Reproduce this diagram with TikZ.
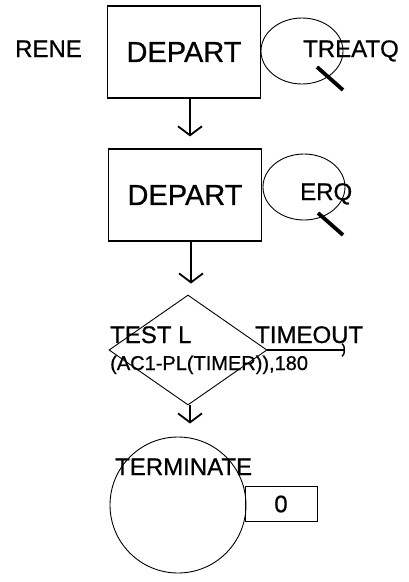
\documentclass[tikz,border=0pt]{standalone}
\usepackage{fontspec}
\setmainfont{Liberation Sans}[FakeBold=0.7]
\usetikzlibrary{shapes.geometric,arrows.meta,positioning}

\begin{document}
\begin{tikzpicture}[x=1pt, y=-1pt,
  block/.style={draw, line width=1.2pt, minimum width=153pt, minimum height=92pt, inner sep=0pt, font=\fontsize{29}{29}\selectfont},
  queue/.style={draw, ellipse, line width=0.9pt, minimum width=82pt, minimum height=66pt, inner sep=0pt},
  lbl/.style={anchor=base west, inner sep=0pt, font=\fontsize{24}{24}\selectfont},
  flow/.style={-{Straight Barb[length=9pt,width=24pt]}, line width=1.8pt},
  qmark/.style={line width=3.8pt}]
\useasboundingbox (0,0) rectangle (409,582);
\node[block] (dep1) at (184,52) {DEPART};
\node[block] (dep2) at (185,195) {DEPART};
\node[queue] (q1) at (302,51) {};
\node[queue] (q2) at (304,187) {};
\node[lbl] (rene) at (15,57) {RENE};
\node[lbl] (treatq) at (303,57) {TREATQ};
\node[lbl] (erq) at (300,200) {ERQ};
\node[draw, diamond, line width=0.9pt, minimum width=158pt, minimum height=110pt, inner sep=0pt] (test) at (188,350) {};
\node[lbl] (testl) at (110,343) {TEST L};
\node[lbl] (tmout) at (255,343) {TIMEOUT};
\node[lbl, font=\fontsize{20}{20}\selectfont] (args) at (110,370) {(AC1-PL(TIMER)),180};
\node[draw, circle, line width=0.9pt, minimum size=136pt, inner sep=0pt] (term) at (178,505) {};
\node[lbl] (termtxt) at (115,475) {TERMINATE};
\node[draw, line width=0.9pt, minimum width=72pt, minimum height=35pt, inner sep=0pt, font=\fontsize{24}{24}\selectfont] (cnt) at (281,504) {0};
\coordinate (tend) at (345,350);
% queue marks
\draw[qmark] (q1.center) ++(15,16) -- ++(26,23);
\draw[qmark] (q2.center) ++(14,26) -- ++(25,22);
% flow
\draw[flow, shorten >=12pt] ([xshift=6pt]dep1.south) -- ([xshift=5pt]dep2.north);
\draw[flow, shorten >=11pt] ([xshift=6pt]dep2.south) -- ([xshift=3pt]test.north);
\draw[flow, shorten >=13pt] ([xshift=2pt]test.south) -- ([xshift=12pt]term.north);
\draw[-{Arc Barb[length=3pt,width=14pt]}, line width=1.4pt] (test.east) -- (tend);
\end{tikzpicture}
\end{document}
